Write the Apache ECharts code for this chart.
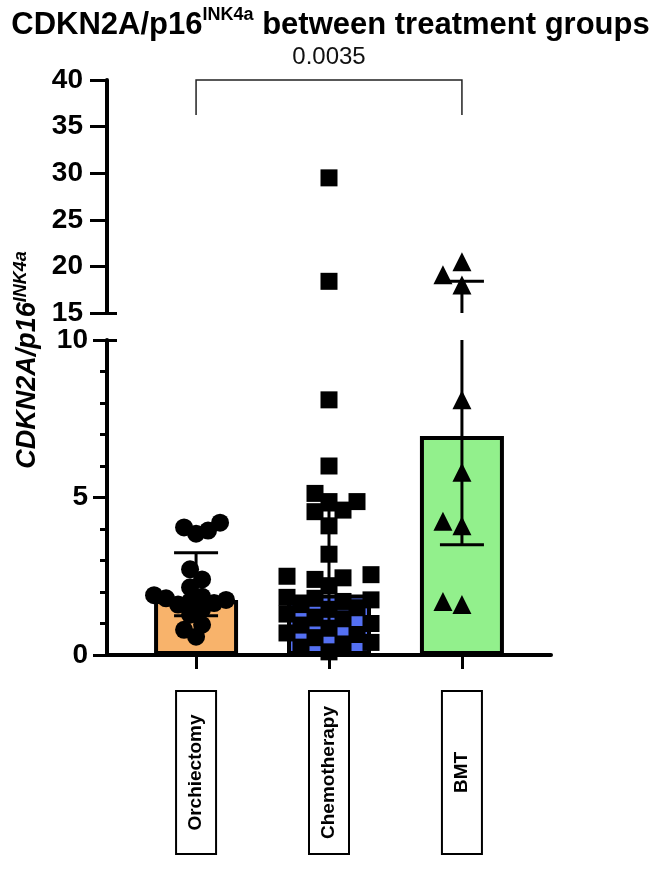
<!DOCTYPE html>
<html>
<head>
<meta charset="utf-8">
<script src="https://cdn.jsdelivr.net/npm/echarts@6/dist/echarts.min.js"></script>
<style>
html, body { margin: 0; padding: 0; background: #fff; }
#main { width: 661px; height: 869px; }
</style>
</head>
<body>
<div id="main"></div>
<script>
var categories = ['Orchiectomy', 'Chemotherapy', 'BMT'];
var barValues = [1.75, 1.92, 6.95];
var errLow = [1.25, 0.95, 3.5];
var errHigh = [3.25, 4.6, 18.4];
var orchiectomyPts = [4.2, 4.05, 3.95, 3.85, 2.72, 2.4, 2.15, 1.9, 1.85, 1.8, 1.75, 1.7,
    1.65, 1.6, 1.45, 1.28, 0.96, 0.8, 0.58];
var chemotherapyPts = [29.5, 18.4, 8.1, 6.0, 5.13, 4.87, 4.87, 4.6, 4.55, 4.1, 3.2, 2.55,
    2.5, 2.45, 2.4, 2.2, 1.83, 1.8, 1.75, 1.7, 1.6, 1.5, 1.45, 1.3, 1.2, 1.15, 1.0, 0.95,
    0.85, 0.7, 0.65, 0.55, 0.4, 0.35, 0.25, 0.1];
var bmtPts = [20.5, 19.1, 18.0, 8.1, 5.8, 4.25, 4.1, 1.7, 1.6];
var lowerTicks = [0, 10];   // lower segment of the broken axis
var upperTicks = [15, 40];  // upper segment
var pValue = '0.0035';
var compare = [0, 2];

var barColors = ['#F8B36B', '#5470F2', '#92F08C'];
var FONT = 'Liberation Sans, Arial, Helvetica, sans-serif';

var chart = echarts.init(document.getElementById('main'));

// error bars, clipped to one segment of the broken axis
function errorBars(yMin, yMax) {
  return function (params, api) {
    var x = api.value(0), lo = api.value(1), hi = api.value(2);
    var a = Math.max(lo, yMin), b = Math.min(hi, yMax);
    if (a > b) return;
    var p1 = api.coord([x, a]), p2 = api.coord([x, b]);
    var half = 22;
    var st = { stroke: '#000', lineWidth: 3 };
    var kids = [{ type: 'line', shape: { x1: p1[0], y1: p1[1], x2: p2[0], y2: p2[1] }, style: st }];
    if (hi <= yMax && hi >= yMin) {
      kids.push({ type: 'line', shape: { x1: p2[0] - half, y1: p2[1], x2: p2[0] + half, y2: p2[1] }, style: st });
    }
    if (lo >= yMin && lo <= yMax) {
      kids.push({ type: 'line', shape: { x1: p1[0] - half, y1: p1[1], x2: p1[0] + half, y2: p1[1] }, style: st });
    }
    return { type: 'group', children: kids };
  };
}

function bracket(params, api) {
  var x1 = api.value(0), x2 = api.value(1), y = api.value(2);
  var a = api.coord([x1, y]), b = api.coord([x2, y]);
  var leg = 35;
  return {
    type: 'group',
    children: [{
      type: 'polyline',
      shape: { points: [[a[0], a[1] + leg], a, b, [b[0], b[1] + leg]] },
      style: { stroke: '#222', lineWidth: 1.5, fill: null }
    }, {
      type: 'text',
      x: (a[0] + b[0]) / 2, y: a[1] - 11,
      style: { text: pValue, fontSize: 24, fontFamily: FONT, fill: '#111', align: 'center', verticalAlign: 'bottom' }
    }]
  };
}

var yLabel = { color: '#000', fontSize: 28, fontWeight: 'bold', fontFamily: FONT };

var option = {
  animation: false,
  backgroundColor: '#fff',
  title: {
    text: '{a|CDKN2A/p16}{s|INK4a}{a| between treatment groups}',
    left: 'center', top: 1,
    textStyle: {
      rich: {
        a: { fontSize: 31, fontWeight: 'bold', fontFamily: FONT, color: '#000', lineHeight: 38 },
        s: { fontSize: 18, fontWeight: 'bold', fontFamily: FONT, color: '#000', verticalAlign: 'top', lineHeight: 20, padding: [0, 0, 14, 0] }
      }
    }
  },
  graphic: [{
    type: 'text',
    x: 28, y: 360,
    rotation: Math.PI / 2,
    style: {
      text: '{a|CDKN2A/p16}{s|INK4a}',
      align: 'center', verticalAlign: 'middle',
      rich: {
        a: { fontSize: 27, fontWeight: 'bold', fontStyle: 'italic', fontFamily: FONT, fill: '#000', lineHeight: 32 },
        s: { fontSize: 18, fontWeight: 'bold', fontStyle: 'italic', fontFamily: FONT, fill: '#000', verticalAlign: 'top', lineHeight: 18, padding: [0, 0, 12, 0] }
      }
    }
  }],
  grid: [
    { left: 107, right: 110, top: 340, bottom: 214 },
    { left: 107, right: 110, top: 80, height: 233 }
  ],
  xAxis: [{
    type: 'value', gridIndex: 0, min: -0.67, max: 2.67,
    splitLine: { show: false },
    axisLine: { onZero: false, lineStyle: { color: '#000', width: 4 } },
    axisTick: { length: 14, lineStyle: { color: '#000', width: 3 }, customValues: [0, 1, 2] },
    axisLabel: {
      customValues: [0, 1, 2], rotate: 90, margin: 37,
      formatter: function (v) { return '{b|' + categories[Math.round(v)] + '}'; },
      rich: {
        b: {
          fontSize: 19, fontWeight: 'bold', fontFamily: FONT, color: '#000',
          width: 161, height: 38, align: 'center', verticalAlign: 'middle',
          borderColor: '#000', borderWidth: 2, backgroundColor: '#fff'
        }
      }
    }
  }, {
    type: 'value', gridIndex: 1, min: -0.67, max: 2.67, show: false
  }],
  yAxis: [{
    type: 'value', gridIndex: 0, min: lowerTicks[0], max: lowerTicks[1], interval: 5, position: 'left',
    splitLine: { show: false },
    axisLine: { show: true, onZero: false, lineStyle: { color: '#000', width: 4 } },
    axisTick: { show: true, length: 14, lineStyle: { color: '#000', width: 3 } },
    minorTick: { show: true, splitNumber: 5, length: 7, lineStyle: { color: '#000', width: 3 } },
    axisLabel: Object.assign({ margin: 19 }, yLabel)
  }, {
    type: 'value', gridIndex: 1, min: upperTicks[0], max: upperTicks[1], interval: 5, position: 'left',
    splitLine: { show: false },
    axisLine: { show: true, onZero: false, lineStyle: { color: '#000', width: 4 } },
    axisTick: { show: true, length: 17, lineStyle: { color: '#000', width: 3 } },
    axisLabel: Object.assign({ margin: 24 }, yLabel)
  }, {
    // inward end caps where the axis is broken
    type: 'value', gridIndex: 0, min: lowerTicks[0], max: lowerTicks[1], position: 'left',
    axisLine: { show: false, onZero: false }, splitLine: { show: false }, axisLabel: { show: false },
    axisTick: { show: true, inside: true, length: 10, customValues: [lowerTicks[1]], lineStyle: { color: '#000', width: 3 } }
  }, {
    type: 'value', gridIndex: 1, min: upperTicks[0], max: upperTicks[1], position: 'left',
    axisLine: { show: false, onZero: false }, splitLine: { show: false }, axisLabel: { show: false },
    axisTick: { show: true, inside: true, length: 10, customValues: [upperTicks[0]], lineStyle: { color: '#000', width: 3 } }
  }],
  series: [{
    id: 'bars', type: 'bar', xAxisIndex: 0, yAxisIndex: 0, barWidth: 84, z: 2,
    itemStyle: { borderColor: '#000', borderWidth: 4 },
    data: barValues.map(function (v, i) {
      return { value: [i, v], itemStyle: { color: barColors[i] } };
    })
  }, {
    id: 'errLower', type: 'custom', xAxisIndex: 0, yAxisIndex: 0, z: 5, clip: false,
    renderItem: errorBars(lowerTicks[0], lowerTicks[1]),
    data: barValues.map(function (v, i) { return [i, errLow[i], errHigh[i]]; })
  }, {
    id: 'errUpper', type: 'custom', xAxisIndex: 1, yAxisIndex: 1, z: 5, clip: false,
    renderItem: errorBars(upperTicks[0], upperTicks[1]),
    data: barValues.map(function (v, i) { return [i, errLow[i], errHigh[i]]; })
  }, {
    id: 'sig', type: 'custom', xAxisIndex: 1, yAxisIndex: 1, z: 5, clip: false,
    renderItem: bracket,
    data: [[compare[0], compare[1], upperTicks[1]]]
  }]
};
chart.setOption(option);

// value -> pixel on whichever segment holds it
function toPx(v) {
  return v <= 12.5 ? chart.convertToPixel({ yAxisIndex: 0 }, v) : chart.convertToPixel({ yAxisIndex: 1 }, v);
}
var pxPerCat = chart.convertToPixel({ xAxisIndex: 0 }, 1) - chart.convertToPixel({ xAxisIndex: 0 }, 0);

// simple beeswarm so points of a column do not pile on top of each other
function swarm(vals, gap, step) {
  var idx = vals.map(function (v, i) { return i; });
  idx.sort(function (a, b) { return vals[a] - vals[b]; });
  var placed = [], offs = [];
  idx.forEach(function (i, n) {
    var y = toPx(vals[i]);
    var best = 0;
    for (var k = 0; k < 40; k++) {
      var sign = n % 2 ? -1 : 1;
      var cands = k === 0 ? [0] : [sign * k * step, -sign * k * step];
      var found = null;
      for (var c = 0; c < cands.length; c++) {
        var x = cands[c];
        var hit = placed.some(function (p) {
          var dx = p[0] - x, dy = p[1] - y;
          return dx * dx + dy * dy < gap * gap;
        });
        if (!hit) { found = x; break; }
      }
      if (found !== null) { best = found; break; }
    }
    placed.push([best, y]);
    offs[i] = best;
  });
  return offs;
}

function points(vals, cat, gap, step) {
  var offs = swarm(vals, gap, step);
  var low = [], high = [];
  vals.forEach(function (v, i) {
    var pt = [cat + offs[i] / pxPerCat, v];
    if (v <= lowerTicks[1]) low.push(pt); else high.push(pt);
  });
  return { low: low, high: high };
}

var groups = [
  { vals: orchiectomyPts, symbol: 'circle', size: 18, gap: 12, step: 6 },
  { vals: chemotherapyPts, symbol: 'rect', size: 17, gap: 15, step: 14 },
  { vals: bmtPts, symbol: 'triangle', size: 19, gap: 19, step: 19 }
];
var extra = [];
groups.forEach(function (g, ci) {
  var p = points(g.vals, ci, g.gap, g.step);
  extra.push({
    id: 'pl' + ci, type: 'scatter', xAxisIndex: 0, yAxisIndex: 0, z: 4, clip: false,
    symbol: g.symbol, symbolSize: g.size, itemStyle: { color: '#000', opacity: 1 }, data: p.low
  });
  extra.push({
    id: 'ph' + ci, type: 'scatter', xAxisIndex: 1, yAxisIndex: 1, z: 4, clip: false,
    symbol: g.symbol, symbolSize: g.size, itemStyle: { color: '#000', opacity: 1 }, data: p.high
  });
});
chart.setOption({ series: extra });
</script>
</body>
</html>
